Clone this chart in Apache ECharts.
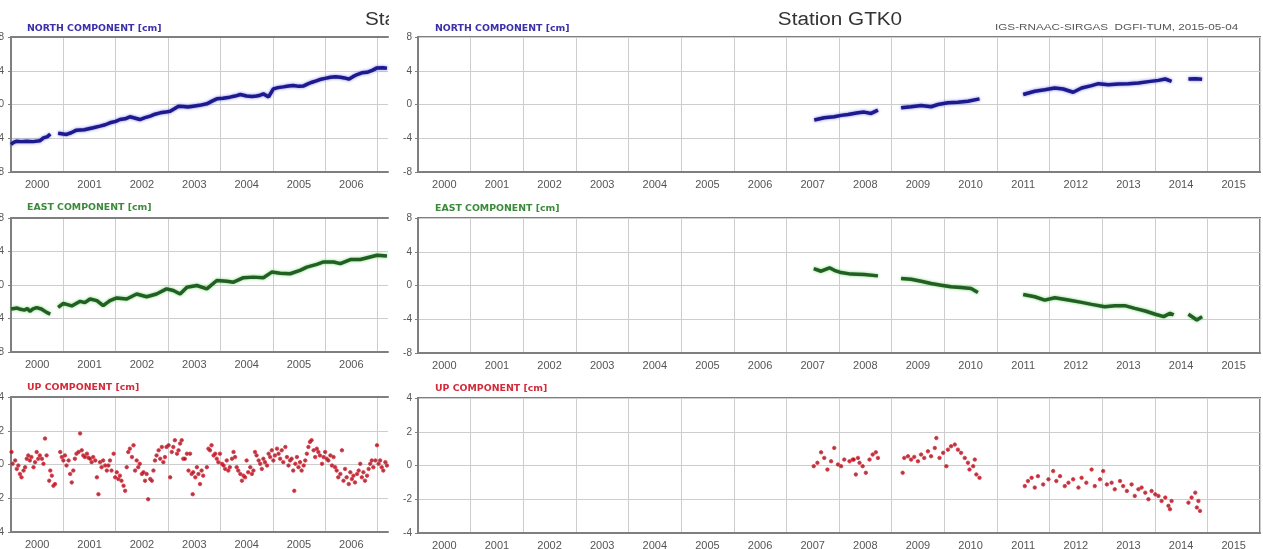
<!DOCTYPE html>
<html><head><meta charset="utf-8">
<script src="https://cdn.jsdelivr.net/npm/echarts@6/dist/echarts.min.js"></script>
<style>html,body{margin:0;padding:0;background:#fff}#c{width:1263px;height:549px}</style>
</head><body><div id="c"></div>
<script>
// ---- tick labels ----
const leftYears = [2000, 2001, 2002, 2003, 2004, 2005, 2006];
const leftGridYears = [2000, 2001, 2002, 2003, 2004, 2005, 2006, 2007];
const rightYears = [2000, 2001, 2002, 2003, 2004, 2005, 2006, 2007, 2008, 2009, 2010, 2011, 2012, 2013, 2014, 2015];

// ---- left station (cropped) ----
const leftNorth = [
  [[2000.00,-4.73],[2000.05,-4.5],[2000.11,-4.35],[2000.20,-4.4],[2000.30,-4.35],[2000.42,-4.4],[2000.55,-4.3],[2000.62,-3.95],[2000.70,-3.8],[2000.75,-3.5]],
  [[2000.90,-3.4],[2001.00,-3.5],[2001.06,-3.55],[2001.15,-3.35],[2001.25,-3.04],[2001.40,-3.0],[2001.57,-2.76],[2001.70,-2.56],[2001.80,-2.4],[2001.89,-2.17],[2002.00,-2.0],[2002.08,-1.78],[2002.18,-1.7],[2002.27,-1.46],[2002.36,-1.6],[2002.46,-1.78],[2002.56,-1.55],[2002.66,-1.38],[2002.75,-1.15],[2002.85,-0.99],[2002.95,-0.9],[2003.04,-0.79],[2003.12,-0.5],[2003.20,-0.2],[2003.29,-0.24],[2003.38,-0.3],[2003.48,-0.2],[2003.60,-0.1],[2003.74,0.08],[2003.84,0.4],[2003.93,0.67],[2004.05,0.75],[2004.18,0.87],[2004.28,1.0],[2004.38,1.18],[2004.50,1.0],[2004.60,0.95],[2004.69,1.0],[2004.76,1.1],[2004.82,1.26],[2004.92,0.9],[2005.01,1.85],[2005.10,2.0],[2005.20,2.09],[2005.30,2.2],[2005.39,2.25],[2005.50,2.15],[2005.59,2.2],[2005.67,2.45],[2005.75,2.64],[2005.83,2.8],[2005.90,2.96],[2006.00,3.1],[2006.10,3.23],[2006.20,3.3],[2006.29,3.23],[2006.37,3.15],[2006.45,3.0],[2006.53,3.3],[2006.61,3.55],[2006.70,3.75],[2006.80,3.82],[2006.90,4.05],[2006.99,4.34],[2007.10,4.35],[2007.18,4.3]]
];
const leftEast = [
  [[2000.00,-2.87],[2000.06,-2.8],[2000.12,-2.75],[2000.18,-2.9],[2000.26,-3.0],[2000.31,-2.8],[2000.36,-3.15],[2000.42,-2.85],[2000.49,-2.7],[2000.58,-2.87],[2000.68,-3.27],[2000.75,-3.47]],
  [[2000.90,-2.67],[2001.00,-2.19],[2001.16,-2.5],[2001.32,-1.95],[2001.41,-2.1],[2001.51,-1.67],[2001.64,-1.87],[2001.76,-2.47],[2001.89,-1.87],[2002.02,-1.55],[2002.21,-1.67],[2002.40,-1.07],[2002.59,-1.4],[2002.78,-1.07],[2002.97,-0.46],[2003.10,-0.66],[2003.23,-1.07],[2003.36,-0.26],[2003.55,-0.06],[2003.74,-0.46],[2003.93,0.54],[2004.12,0.46],[2004.25,0.34],[2004.44,0.87],[2004.63,0.94],[2004.82,0.87],[2004.98,1.54],[2005.14,1.41],[2005.33,1.34],[2005.52,1.75],[2005.65,2.14],[2005.84,2.47],[2005.97,2.75],[2006.16,2.75],[2006.29,2.55],[2006.48,3.04],[2006.67,3.04],[2006.86,3.35],[2006.99,3.55],[2007.18,3.47]]
];
const leftUp = [
  [2000.01,0.74],[2000.03,0.04],[2000.08,0.24],[2000.11,-0.26],[2000.14,-0.06],[2000.17,-0.56],[2000.20,-0.76],[2000.24,-0.36],[2000.27,-0.16],[2000.30,0.34],[2000.33,0.54],[2000.36,0.24],[2000.39,0.44],[2000.43,-0.16],[2000.46,0.14],[2000.49,0.74],[2000.52,0.34],[2000.55,0.54],[2000.59,0.34],[2000.62,0.04],[2000.65,1.54],[2000.68,0.54],[2000.73,-0.96],[2000.75,-0.36],[2000.78,-0.66],[2000.81,-1.26],[2000.84,-1.16],
  [2000.94,0.74],[2000.97,0.44],[2001.00,0.24],[2001.03,0.54],[2001.06,-0.06],[2001.10,0.24],[2001.13,-0.56],[2001.16,-1.06],[2001.19,-0.36],[2001.22,0.34],[2001.25,0.64],[2001.29,0.74],[2001.32,1.84],[2001.35,0.84],[2001.38,0.54],[2001.41,0.44],[2001.45,0.64],[2001.48,0.40],[2001.51,0.34],[2001.54,0.14],[2001.57,0.44],[2001.61,0.24],[2001.64,-0.76],[2001.67,-1.76],[2001.70,0.14],[2001.73,-0.16],[2001.76,0.24],[2001.80,-0.06],[2001.83,-0.36],[2001.86,-0.06],[2001.89,0.24],[2001.92,-0.36],[2001.96,0.64],
  [2001.99,-0.76],[2002.02,-0.46],[2002.05,-0.86],[2002.08,-0.66],[2002.11,-0.96],[2002.15,-1.26],[2002.18,-1.56],[2002.21,-0.16],[2002.24,0.74],[2002.27,0.94],[2002.31,0.44],[2002.34,1.14],[2002.37,-0.36],[2002.40,0.24],[2002.43,-0.16],[2002.46,0.04],[2002.50,-0.56],[2002.53,-0.46],[2002.56,-0.96],[2002.59,-0.56],[2002.62,-2.06],[2002.66,-0.86],[2002.69,-0.96],[2002.72,-0.36],[2002.75,0.24],[2002.78,0.54],[2002.82,0.84],[2002.85,0.34],[2002.88,1.04],[2002.91,0.14],[2002.94,0.44],[2002.97,1.04],
  [2003.01,1.14],[2003.04,-0.76],[2003.07,0.74],[2003.10,1.04],[2003.13,1.44],[2003.17,0.64],[2003.20,0.84],[2003.23,1.24],[2003.26,1.44],[2003.29,0.34],[2003.32,0.34],[2003.36,0.64],[2003.39,-0.36],[2003.42,0.64],[2003.45,-0.56],[2003.47,-1.76],[2003.48,-0.46],[2003.52,-0.76],[2003.55,-0.16],[2003.58,-0.56],[2003.61,-1.16],[2003.64,-0.36],[2003.67,-0.66],[2003.74,-0.16],[2003.77,0.94],[2003.80,0.84],[2003.83,1.14],[2003.87,0.54],[2003.90,0.64],[2003.93,0.34],[2003.96,0.14],[2003.99,0.64],
  [2004.03,0.04],[2004.06,-0.06],[2004.09,-0.26],[2004.12,0.24],[2004.15,-0.36],[2004.18,-0.16],[2004.22,0.34],[2004.25,0.74],[2004.28,0.44],[2004.31,-0.16],[2004.34,-0.36],[2004.38,-0.56],[2004.41,-0.96],[2004.44,-0.66],[2004.47,-0.76],[2004.50,0.24],[2004.53,-0.46],[2004.57,-0.16],[2004.60,-0.56],[2004.63,-0.36],[2004.66,0.74],[2004.69,0.54],[2004.73,0.24],[2004.76,0.04],[2004.79,-0.26],[2004.82,0.34],[2004.85,0.14],[2004.89,-0.06],[2004.92,0.64],[2004.95,0.44],[2004.98,0.84],
  [2005.01,0.24],[2005.04,0.54],[2005.08,0.94],[2005.11,0.64],[2005.14,0.34],[2005.17,0.84],[2005.20,0.14],[2005.24,1.04],[2005.27,0.44],[2005.30,-0.06],[2005.33,0.24],[2005.36,0.34],[2005.39,-0.36],[2005.41,-1.56],[2005.43,0.04],[2005.46,0.44],[2005.49,-0.16],[2005.52,0.14],[2005.55,-0.36],[2005.59,-0.06],[2005.62,0.24],[2005.65,0.64],[2005.68,1.04],[2005.71,1.34],[2005.74,1.44],[2005.78,0.84],[2005.81,0.44],[2005.84,0.94],[2005.87,0.74],[2005.90,0.54],[2005.94,0.04],[2005.97,0.44],
  [2006.00,0.74],[2006.03,0.34],[2006.06,0.24],[2006.10,0.54],[2006.13,-0.06],[2006.16,0.44],[2006.19,-0.16],[2006.22,-0.36],[2006.25,-0.76],[2006.29,-0.56],[2006.32,0.84],[2006.35,-0.96],[2006.38,-0.26],[2006.41,-0.76],[2006.45,-1.16],[2006.48,-0.46],[2006.51,-0.86],[2006.54,-0.66],[2006.57,-1.06],[2006.61,-0.56],[2006.64,-0.36],[2006.67,0.04],[2006.70,-0.76],[2006.73,-0.46],[2006.76,-0.96],[2006.80,-0.66],[2006.83,-0.26],[2006.86,0.04],[2006.89,0.24],[2006.92,-0.16],[2006.96,0.24],[2006.99,1.14],[2007.02,0.04],[2007.05,0.24],[2007.08,-0.16],[2007.11,-0.36],[2007.15,0.14],[2007.18,-0.06]
];

// ---- Station GTK0 ----
const rightNorth = [
  [[2007.53,-1.84],[2007.72,-1.57],[2007.91,-1.45],[2008.04,-1.29],[2008.17,-1.18],[2008.36,-0.98],[2008.48,-0.90],[2008.61,-1.06],[2008.74,-0.67]],
  [[2009.18,-0.39],[2009.37,-0.27],[2009.56,-0.12],[2009.75,-0.27],[2009.88,0.0],[2010.07,0.2],[2010.26,0.27],[2010.45,0.39],[2010.67,0.67]],
  [[2011.50,1.18],[2011.72,1.57],[2011.91,1.76],[2012.10,1.96],[2012.26,1.84],[2012.45,1.45],[2012.61,1.96],[2012.80,2.24],[2012.93,2.47],[2013.12,2.35],[2013.31,2.43],[2013.50,2.47],[2013.69,2.55],[2013.88,2.71],[2014.07,2.86],[2014.20,3.02],[2014.32,2.75]],
  [[2014.64,3.02],[2014.77,3.05],[2014.90,3.0]]
];
const rightEast = [
  [[2007.52,2.0],[2007.66,1.69],[2007.82,2.1],[2007.91,1.8],[2008.04,1.53],[2008.23,1.35],[2008.48,1.29],[2008.74,1.14]],
  [[2009.18,0.82],[2009.37,0.75],[2009.56,0.51],[2009.75,0.24],[2009.94,0.04],[2010.13,-0.16],[2010.32,-0.24],[2010.51,-0.35],[2010.64,-0.82]],
  [[2011.50,-1.06],[2011.72,-1.33],[2011.91,-1.73],[2012.10,-1.45],[2012.36,-1.73],[2012.61,-2.0],[2012.80,-2.24],[2013.05,-2.51],[2013.24,-2.39],[2013.43,-2.39],[2013.62,-2.71],[2013.82,-3.02],[2014.01,-3.41],[2014.17,-3.69],[2014.29,-3.29],[2014.36,-3.49]],
  [[2014.64,-3.41],[2014.80,-4.08],[2014.90,-3.69]]
];
const rightUp = [
  [2007.52,-0.04],[2007.59,0.16],[2007.66,0.78],[2007.72,0.45],[2007.78,-0.24],[2007.85,0.25],[2007.91,1.04],[2007.98,0.06],[2008.04,-0.04],[2008.10,0.35],[2008.20,0.25],[2008.26,0.35],[2008.32,-0.53],[2008.39,0.16],[2008.28,0.35],[2008.36,0.45],[2008.45,-0.04],[2008.51,-0.43],[2008.58,0.35],[2008.64,0.65],[2008.70,0.78],[2008.74,0.45],
  [2009.21,-0.43],[2009.24,0.45],[2009.31,0.55],[2009.37,0.35],[2009.43,0.51],[2009.50,0.25],[2009.56,0.65],[2009.62,0.45],[2009.69,0.84],[2009.75,0.55],[2009.82,1.04],[2009.85,1.63],[2009.91,0.45],[2009.98,0.75],[2010.04,-0.04],[2010.07,0.94],[2010.13,1.14],[2010.20,1.24],[2010.26,0.94],[2010.32,0.75],[2010.39,0.45],[2010.45,0.16],[2010.48,-0.24],[2010.55,-0.04],[2010.58,0.35],[2010.61,-0.53],[2010.67,-0.73],
  [2011.53,-1.22],[2011.59,-0.92],[2011.66,-0.73],[2011.72,-1.31],[2011.78,-0.63],[2011.88,-1.12],[2011.98,-0.82],[2012.07,-0.33],[2012.13,-0.92],[2012.20,-0.63],[2012.29,-1.22],[2012.36,-1.02],[2012.45,-0.82],[2012.55,-1.31],[2012.61,-0.73],[2012.70,-1.02],[2012.80,-0.24],[2012.86,-1.22],[2012.96,-0.82],[2013.02,-0.33],[2013.09,-1.12],[2013.18,-1.02],[2013.24,-1.41],[2013.34,-0.92],[2013.40,-1.22],[2013.47,-1.51],[2013.56,-1.12],[2013.62,-1.8],[2013.69,-1.41],[2013.75,-1.31],[2013.82,-1.61],[2013.88,-2.0],[2013.94,-1.51],[2014.01,-1.71],[2014.07,-1.8],[2014.13,-2.1],[2014.20,-1.9],[2014.26,-2.39],[2014.29,-2.59],[2014.32,-2.1],
  [2014.64,-2.2],[2014.70,-1.9],[2014.77,-1.61],[2014.80,-2.49],[2014.83,-2.1],[2014.86,-2.69]
];

const AX = '#7f7f7f', GRIDC = '#cdcdcd', LAB = '#555';
const FONT = 'Liberation Sans';

const gridBase = {containLabel: false, outerBoundsMode: 'none'};
const grids = [
  {left: 11, width: 377, top: 37, height: 135},
  {left: 11, width: 377, top: 218, height: 134},
  {left: 11, width: 377, top: 397, height: 135},
  {left: 418, width: 842, top: 37, height: 135, show: true, borderColor: AX, borderWidth: 2},
  {left: 418, width: 842, top: 218, height: 135, show: true, borderColor: AX, borderWidth: 2},
  {left: 418, width: 842, top: 398, height: 135, show: true, borderColor: AX, borderWidth: 2}
].map(g => Object.assign({}, gridBase, g));

function bottomX(g, isLeft) {
  const years = isLeft ? leftYears : rightYears;
  const ax = {
    type: 'value', gridIndex: g, position: 'bottom',
    min: 2000, max: isLeft ? 2007.2 : 2016, interval: 1,
    axisLine: {show: true, onZero: false, lineStyle: {color: AX, width: 2}},
    axisTick: {show: false},
    splitLine: {show: true, lineStyle: {color: GRIDC, width: 1}},
    axisLabel: {
      customValues: years.map(y => y + 0.5),
      formatter: v => String(Math.floor(v)),
      color: LAB, fontSize: 11, fontFamily: FONT, margin: 7
    }
  };
  if (isLeft) ax.axisTick.customValues = leftGridYears;
  return ax;
}
function topX(g) {
  return {
    type: 'value', gridIndex: g, position: 'top', min: 2000, max: 2007.2,
    axisLine: {show: true, onZero: false, lineStyle: {color: AX, width: 2}},
    axisTick: {show: false}, axisLabel: {show: false}, splitLine: {show: false}
  };
}
function yAx(g, lim, step, isLeft) {
  return {
    type: 'value', gridIndex: g, min: -lim, max: lim, interval: step,
    axisLine: {show: true, onZero: false, lineStyle: {color: AX, width: 2}},
    axisTick: {show: true, length: 3, lineStyle: {color: AX}},
    splitLine: {show: true, lineStyle: {color: GRIDC, width: 1}},
    axisLabel: {color: LAB, fontSize: 10, fontFamily: FONT, margin: isLeft ? 7 : 6}
  };
}

const xAxis = [bottomX(0, true), bottomX(1, true), bottomX(2, true),
               bottomX(3, false), bottomX(4, false), bottomX(5, false),
               topX(0), topX(1), topX(2)];
const yAxis = [yAx(0, 8, 4, true), yAx(1, 8, 4, true), yAx(2, 4, 2, true),
               yAx(3, 8, 4, false), yAx(4, 8, 4, false), yAx(5, 4, 2, false)];

const series = [];
function lineSegs(segs, g, color, halo) {
  segs.forEach(seg => series.push({
    type: 'line', xAxisIndex: g, yAxisIndex: g, data: seg,
    symbol: 'none', silent: true, z: 3,
    lineStyle: {color: color, width: 3.5, shadowColor: halo, shadowBlur: 3}
  }));
}
function dots(data, g) {
  series.push({
    type: 'scatter', xAxisIndex: g, yAxisIndex: g, data: data,
    symbolSize: 3.5, silent: true, z: 3,
    itemStyle: {color: '#8e0d1a', borderColor: '#e8303f', borderWidth: 1}
  });
}
lineSegs(leftNorth, 0, '#1d1a8c', 'rgba(90,90,240,0.8)');
lineSegs(leftEast, 1, '#225f22', 'rgba(90,200,90,0.8)');
dots(leftUp, 2);
lineSegs(rightNorth, 3, '#1d1a8c', 'rgba(90,90,240,0.8)');
lineSegs(rightEast, 4, '#225f22', 'rgba(90,200,90,0.8)');
dots(rightUp, 5);

function label(x, y, text, fill, scaleX) {
  return {type: 'text', x: x, y: y, scaleX: scaleX, z: 10,
    style: {text: text, fill: fill, font: 'bold 8px "DejaVu Sans"', align: 'left', verticalAlign: 'middle'}};
}
const graphic = [
  label(27, 29, 'NORTH COMPONENT [cm]', '#3a30a8', 1.17),
  label(435, 29, 'NORTH COMPONENT [cm]', '#3a30a8', 1.17),
  label(27, 208, 'EAST COMPONENT [cm]', '#3a8a3a', 1.17),
  label(435, 209, 'EAST COMPONENT [cm]', '#3a8a3a', 1.17),
  label(27, 388, 'UP COMPONENT [cm]', '#d42a3a', 1.17),
  label(435, 389, 'UP COMPONENT [cm]', '#d42a3a', 1.17),
  {type: 'text', x: 840, y: 20, scaleX: 1.15, z: 10,
    style: {text: 'Station GTK0', fill: '#333', font: '18px "Liberation Sans"', align: 'center', verticalAlign: 'middle'}},
  {type: 'text', x: 365, y: 20, scaleX: 1.15, z: 10,
    style: {text: 'Sta', fill: '#333', font: '18px "Liberation Sans"', align: 'left', verticalAlign: 'middle'}},
  {type: 'rect', x: 389, y: 4, z: 11, shape: {width: 8, height: 30}, style: {fill: '#fff'}},
  {type: 'text', x: 995, y: 28, scaleX: 1.3, z: 10,
    style: {text: 'IGS-RNAAC-SIRGAS  DGFI-TUM, 2015-05-04', fill: '#555', font: '9px "Liberation Sans"', align: 'left', verticalAlign: 'middle'}}
];

const chart = echarts.init(document.getElementById('c'), null, {renderer: 'canvas'});
chart.setOption({
  animation: false,
  backgroundColor: '#fff',
  grid: grids, xAxis: xAxis, yAxis: yAxis, series: series, graphic: graphic
});
</script></body></html>
